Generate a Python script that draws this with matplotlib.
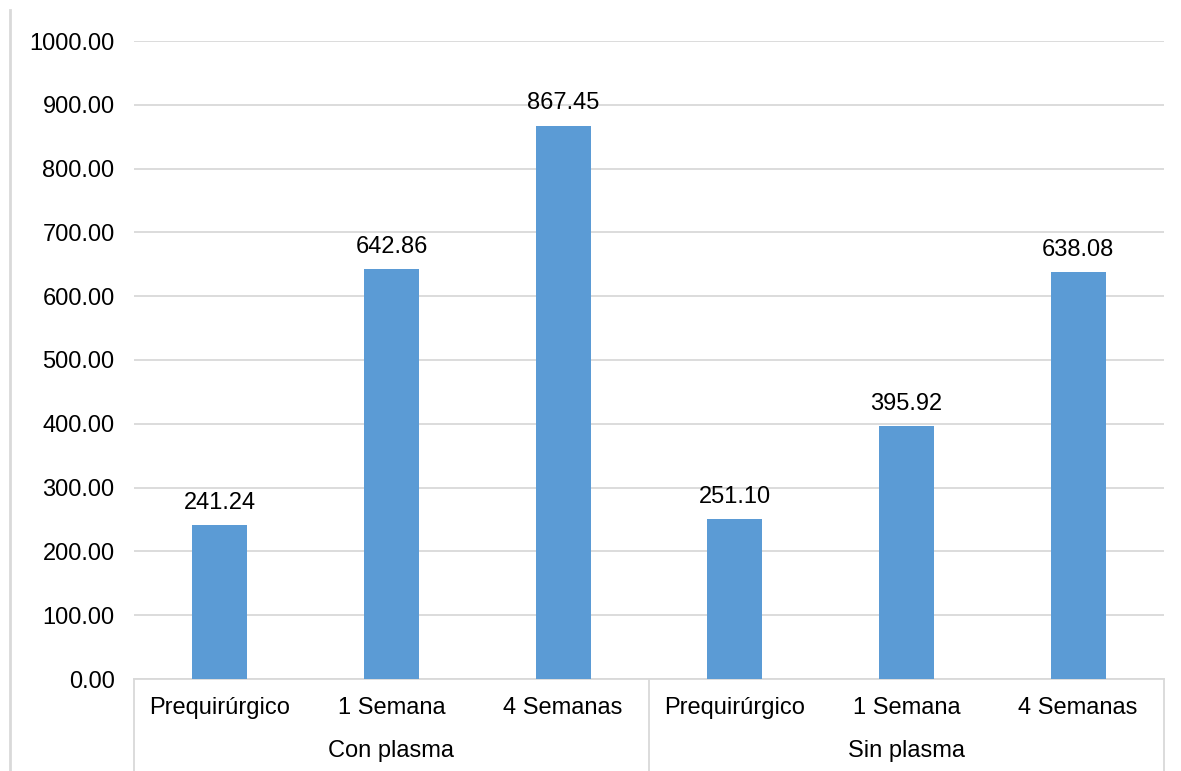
import matplotlib
matplotlib.use("Agg")
import matplotlib.pyplot as plt
from matplotlib.lines import Line2D

# datos
grupos = ["Con plasma", "Sin plasma"]
tiempos = ["Prequirúrgico", "1 Semana", "4 Semanas"]
valores = [241.24, 642.86, 867.45, 251.10, 395.92, 638.08]
yticks = [0, 100, 200, 300, 400, 500, 600, 700, 800, 900, 1000]

plt.rcParams['font.family'] = ['Liberation Sans', 'DejaVu Sans']
fs = 17

fig = plt.figure(figsize=(11.81, 7.71), dpi=100)
W, H = 1181, 771
ax = fig.add_axes([134 / W, 1 - 679 / H, (1164 - 134) / W, (679 - 41) / H])

n = len(valores)
xs = list(range(n))
barras = ax.bar(xs, valores, width=0.32, color="#5B9BD5", zorder=3)
for x, v in zip(xs, valores):
    ax.annotate(f"{v:.2f}", (x, v), xytext=(0, 8), textcoords="offset points",
                ha="center", va="bottom", fontsize=fs, color="#000000")

ax.set_xlim(-0.5, n - 0.5)
ax.set_ylim(0, 1000)
ax.set_yticks(yticks)
ax.set_yticklabels([f"{t:.2f}" for t in yticks], fontsize=fs)
ax.yaxis.grid(True, color="#D9D9D9", linewidth=1.3, zorder=0)
ax.tick_params(axis="y", length=0, pad=14)
ax.set_xticks([])
for s in ["top", "right", "left"]:
    ax.spines[s].set_visible(False)
ax.spines["bottom"].set_color("#D9D9D9")
ax.spines["bottom"].set_linewidth(1.3)

# etiquetas de categorias y grupos
trans = ax.get_xaxis_transform()
for i, x in enumerate(xs):
    ax.text(x, -0.045, tiempos[i % len(tiempos)], transform=trans,
            ha="center", va="center", fontsize=fs)
for g, nombre in enumerate(grupos):
    centro = g * len(tiempos) + (len(tiempos) - 1) / 2
    ax.text(centro, -0.113, nombre, transform=trans,
            ha="center", va="center", fontsize=fs)
for b in [-0.5, 2.5, 5.5]:
    ax.plot([b, b], [0, -0.15], transform=trans, color="#D9D9D9",
            linewidth=1.3, clip_on=False)

# borde izquierdo del marco
fig.add_artist(Line2D([10 / W, 10 / W], [0, 1 - 10 / H], color="#D9D9D9",
                      linewidth=2, transform=fig.transFigure))

fig.savefig("out.png", dpi=100)
